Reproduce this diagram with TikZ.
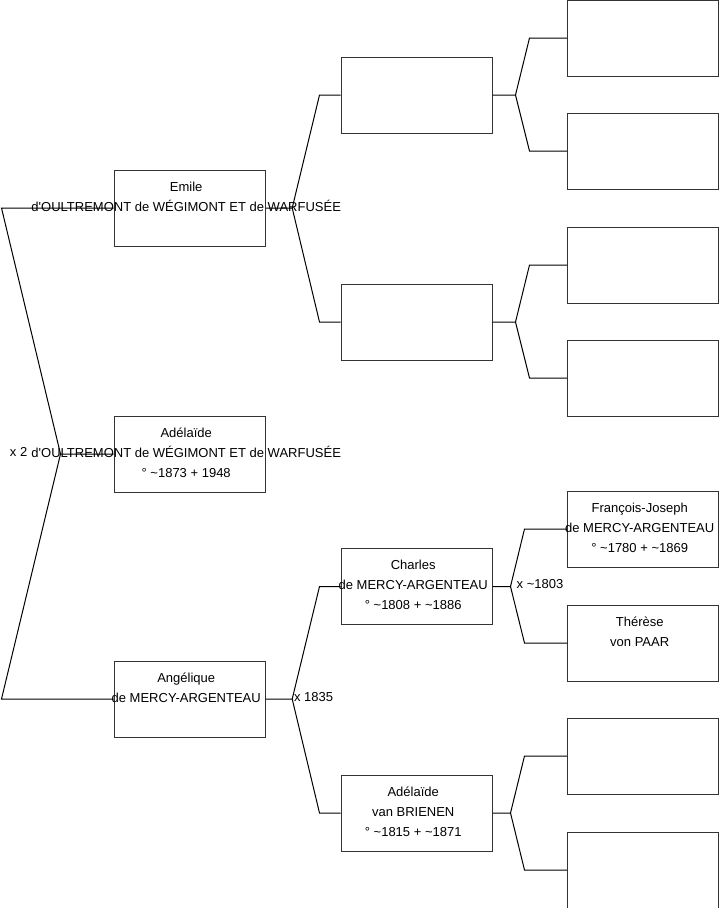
\documentclass[tikz,border=0pt]{standalone}
\usepackage{fontspec}
\setmainfont{Liberation Sans}
\usetikzlibrary{positioning}
\tikzstyle{person} = [rectangle, minimum width=151pt, minimum height=76pt, inner sep=0pt, draw=black!80, line width=1pt]
\tikzstyle{nametext} = [align=center, anchor=north, inner sep=0pt, font=\fontsize{13}{20}\selectfont, execute at begin node=\strut]
\tikzstyle{unionlabel} = [anchor=base west, inner sep=0pt, font=\fontsize{13}{16}\selectfont]
\tikzstyle{linkline} = [line width=1pt, black]

\begin{document}
\begin{tikzpicture}[x=1pt, y=-1pt]
    \useasboundingbox (0,0) rectangle (719,908);

    % Column 1
    \node (emile) [person] at (189.5,208) {};
    \node (adelaide) [person] at (189.5,454) {};
    \node (angelique) [person] at (189.5,699) {};

    % Column 2
    \node (p1) [person] at (416.5,95) {};
    \node (p2) [person] at (416.5,322) {};
    \node (charles) [person] at (416.5,586.5) {};
    \node (brienen) [person] at (416.5,813) {};

    % Column 3
    \node (g1) [person] at (643,38) {};
    \node (g2) [person] at (643,151) {};
    \node (g3) [person] at (643,265) {};
    \node (g4) [person] at (643,378) {};
    \node (francois) [person] at (643,529) {};
    \node (therese) [person] at (643,643) {};
    \node (g7) [person] at (643,756) {};
    \node (g8) [person] at (643,870) {};

    % Names
    \node (emilename) [nametext] at ([xshift=-3.3pt, yshift=-12pt]emile.north) {Emile\\d\textquotesingle OULTREMONT de WÉGIMONT ET de WARFUSÉE};
    \node (adelaidename) [nametext] at ([xshift=-3.3pt, yshift=-12pt]adelaide.north) {Adélaïde\\d\textquotesingle OULTREMONT de WÉGIMONT ET de WARFUSÉE\\° \textasciitilde1873 + 1948};
    \node (angeliquename) [nametext] at ([xshift=-3.3pt, yshift=-12pt]angelique.north) {Angélique\\de MERCY-ARGENTEAU};
    \node (charlesname) [nametext] at ([xshift=-3.3pt, yshift=-12pt]charles.north) {Charles\\de MERCY-ARGENTEAU\\° \textasciitilde1808 + \textasciitilde1886};
    \node (brienenname) [nametext] at ([xshift=-3.3pt, yshift=-12pt]brienen.north) {Adélaïde\\van BRIENEN\\° \textasciitilde1815 + \textasciitilde1871};
    \node (francoisname) [nametext] at ([xshift=-3.3pt, yshift=-12pt]francois.north) {François-Joseph\\de MERCY-ARGENTEAU\\° \textasciitilde1780 + \textasciitilde1869};
    \node (theresename) [nametext] at ([xshift=-3.3pt, yshift=-12pt]therese.north) {Thérèse\\von PAAR};

    % Forks
    \coordinate (f0) at ([xshift=-53pt]adelaide.west);
    \coordinate (l1) at ([xshift=-112pt]emile.west);
    \coordinate (l2) at ([xshift=-112pt]angelique.west);
    \coordinate (fe) at ([xshift=26.7pt]emile.east);
    \coordinate (fa) at ([xshift=26.7pt]angelique.east);
    \coordinate (f1) at ([xshift=23pt]p1.east);
    \coordinate (f2) at ([xshift=23pt]p2.east);
    \coordinate (fc) at ([xshift=18pt]charles.east);
    \coordinate (fb) at ([xshift=18pt]brienen.east);

    % Lines
    \draw [linkline] (adelaide.west) -- (f0) -- (l1) -- (emile.west);
    \draw [linkline] (f0) -- (l2) -- (angelique.west);
    \draw [linkline] (emile.east) -- (fe) -- ([xshift=-21pt]p1.west) -- (p1.west);
    \draw [linkline] (fe) -- ([xshift=-21pt]p2.west) -- (p2.west);
    \draw [linkline] (angelique.east) -- (fa) -- ([xshift=-21pt]charles.west) -- (charles.west);
    \draw [linkline] (fa) -- ([xshift=-21pt]brienen.west) -- (brienen.west);
    \draw [linkline] (p1.east) -- (f1) -- ([xshift=-37.5pt]g1.west) -- (g1.west);
    \draw [linkline] (f1) -- ([xshift=-37.5pt]g2.west) -- (g2.west);
    \draw [linkline] (p2.east) -- (f2) -- ([xshift=-37.5pt]g3.west) -- (g3.west);
    \draw [linkline] (f2) -- ([xshift=-37.5pt]g4.west) -- (g4.west);
    \draw [linkline] (charles.east) -- (fc) -- ([xshift=-42.5pt]francois.west) -- (francois.west);
    \draw [linkline] (fc) -- ([xshift=-42.5pt]therese.west) -- (therese.west);
    \draw [linkline] (brienen.east) -- (fb) -- ([xshift=-42.5pt]g7.west) -- (g7.west);
    \draw [linkline] (fb) -- ([xshift=-42.5pt]g8.west) -- (g8.west);

    % Marriages
    \node (x2) [unionlabel, anchor=base east] at ([xshift=-33pt, yshift=-2.7pt]f0) {x 2};
    \node (x1835) [unionlabel] at ([xshift=1.6pt, yshift=-2.4pt]fa) {x 1835};
    \node (x1803) [unionlabel] at ([xshift=6pt, yshift=-1.6pt]fc) {x \textasciitilde1803};
\end{tikzpicture}
\end{document}
